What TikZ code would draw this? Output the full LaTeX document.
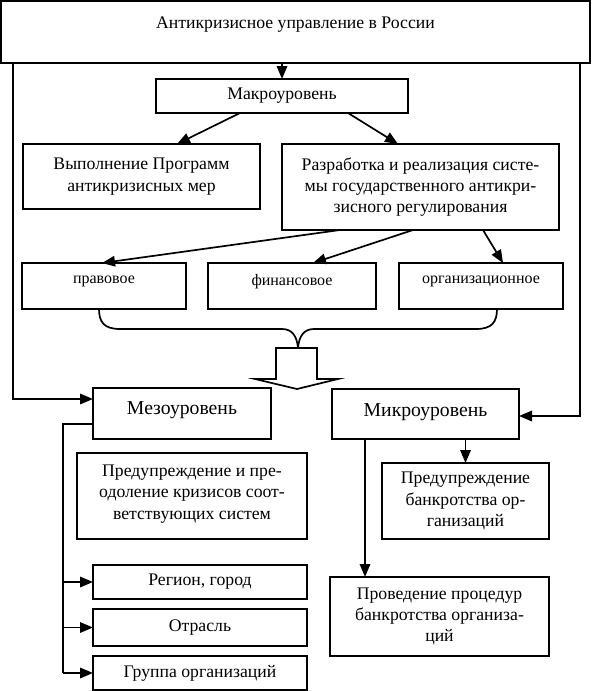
\documentclass[tikz,border=0pt]{standalone}
\usepackage{fontspec}
\setmainfont{Liberation Serif}
\usetikzlibrary{positioning, arrows.meta, calc}
\tikzstyle{normal} = [rectangle, draw=black, fill=white, line width=1.7pt, inner sep=0pt, outer sep=0pt, align=center, font=\fontsize{17.7}{21.2}\selectfont]
\tikzstyle{small} = [normal, font=\fontsize{16}{19}\selectfont]
\tikzstyle{tier} = [normal, font=\fontsize{19.7}{23}\selectfont]
\tikzstyle{arrow} = [line width=1.7pt, -{Triangle[length=13pt,width=10.5pt]}]
\tikzstyle{line} = [line width=1.7pt]

\begin{document}
\begin{tikzpicture}[x=1pt, y=-1pt]
\useasboundingbox (0,0) rectangle (592,691);

%% NODES

\node (russia) [normal, minimum width=589pt, minimum height=62pt, text depth=19pt] at (295.5,32) {Антикризисное управление в России};
\node (macro) [normal, minimum width=252pt, minimum height=34pt] at (282,96) {Макроуровень};
\node (progr) [normal, minimum width=237pt, minimum height=65pt] at (141.5,176.5) {Выполнение Программ\\антикризисных мер};
\node (razrab) [normal, minimum width=277pt, minimum height=86pt] at (420.5,187) {Разработка и реализация систе-\\мы государственного антикри-\\зисного регулирования};
\node (pravo) [small, minimum width=164pt, minimum height=46pt, text depth=12pt] at (104,286) {правовое};
\node (finan) [small, minimum width=168pt, minimum height=46pt, text depth=12pt, right=22pt of pravo] {финансовое};
\node (org) [small, minimum width=164pt, minimum height=46pt, text depth=12pt, right=23pt of finan] {организационное};
\node (meso) [tier, minimum width=178pt, minimum height=51pt, text depth=11pt] at (182,413.5) {Мезоуровень};
\node (micro) [tier, minimum width=187pt, minimum height=50pt, text depth=8pt] at (425.5,414) {Микроуровень};
\node (mesoprev) [normal, minimum width=230pt, minimum height=86pt, text depth=8pt] at (192,496) {Предупреждение и пре-\\одоление кризисов соот-\\ветствующих систем};
\node (region) [normal, minimum width=214pt, minimum height=34pt] at (200,582) {Регион, город};
\node (branch) [normal, minimum width=214pt, minimum height=37pt, below=10pt of region] {Отрасль};
\node (group) [normal, minimum width=214pt, minimum height=34pt, below=10pt of branch] {Группа организаций};
\node (bankprev) [normal, minimum width=167pt, minimum height=76pt] at (465.5,501) {Предупреждение\\банкротства ор-\\ганизаций};
\node (bankproc) [normal, minimum width=219pt, minimum height=79pt] at (439.5,616.5) {Проведение процедур\\банкротства организа-\\ций};

\coordinate (mesoleg) at ([xshift=-30pt,yshift=-10.5pt]meso.west);
\coordinate (microleg) at ([xshift=33pt]micro.south west);

%% ARROWS

\draw [arrow] (macro.north |- russia.south) -- (macro.north);
\draw [arrow] ([xshift=-42pt]macro.south) -- ([xshift=35.5pt]progr.north);
\draw [arrow] ([xshift=66pt]macro.south) -- ([xshift=-22.5pt]razrab.north);
\draw [arrow] ([xshift=-80.5pt]razrab.south) -- ([xshift=-2pt]pravo.north);
\draw [arrow] ([xshift=-7.5pt]razrab.south) -- ([xshift=21pt]finan.north);
\draw [arrow] ([xshift=62.5pt]razrab.south) -- ([xshift=22pt]org.north);
\draw [arrow] ([xshift=12pt]russia.south west) |- ([yshift=14.5pt]meso.west);
\draw [arrow] ([xshift=-10pt]russia.south east) |- ([yshift=-2pt]micro.east);

% brace and block arrow
\draw [line] (99,309) .. controls (99,322) and (104,329) .. (120,329) -- (282,329)
  .. controls (292,329) and (297,336) .. (298,348)
  .. controls (299,336) and (304,329) .. (314,329) -- (476,329)
  .. controls (492,329) and (497,322) .. (497,309);
\draw [line, fill=white] (276,348) -- (317,348) -- (317,379) -- (338,379) -- (297,389) -- (255,379) -- (276,379) -- cycle;

\draw [line] ([yshift=-10.5pt]meso.west) -- (mesoleg) -- (mesoleg |- group.west);
\draw [arrow] (mesoleg |- region.west) -- (region.west);
\draw [arrow] (mesoleg |- branch.west) -- (branch.west);
\draw [arrow] (mesoleg |- group.west) -- (group.west);

\draw [arrow] (bankprev.north |- micro.south) -- (bankprev.north);
\draw [arrow] (microleg) -- (microleg |- bankproc.north);
\end{tikzpicture}
\end{document}
